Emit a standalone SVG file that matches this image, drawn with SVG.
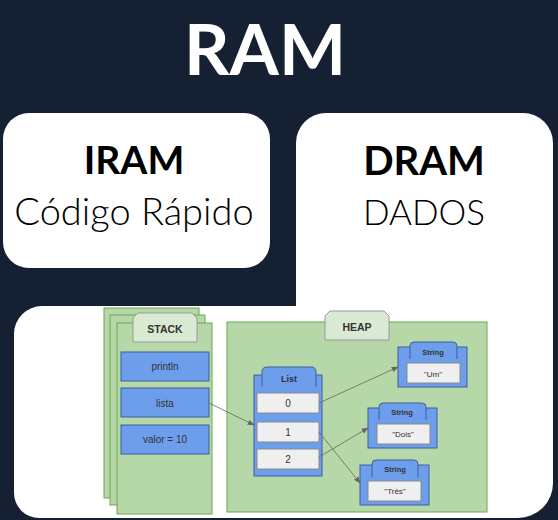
<svg xmlns="http://www.w3.org/2000/svg" width="558" height="520" viewBox="0 0 558 520">
<defs>
<style>
.title{font-family:Lato,"Open Sans","DejaVu Sans",sans-serif;text-anchor:middle}
.b{font-weight:bold}
.lt{font-weight:300}
.d{font-family:"Liberation Sans",Arial,sans-serif;text-anchor:middle;fill:#333}
.grn{fill:#b6d7a8;stroke:#6aa84f;stroke-width:1}
.tabg{fill:#d9ead3;stroke:#9a9a9a;stroke-width:1}
.blue{fill:#6d9eeb;stroke:#3f5f99;stroke-width:1}
.cell{fill:#efefef;stroke:#8a8a8a;stroke-width:1}
.conn{stroke:#666;stroke-width:0.8;fill:none;marker-end:url(#ah)}
</style>
<marker id="ah" viewBox="0 0 10 10" refX="9" refY="5" markerWidth="7" markerHeight="7" orient="auto" markerUnits="userSpaceOnUse">
<path d="M0,1 L10,5 L0,9 Z" fill="#666"/>
</marker>
</defs>
<rect x="0" y="0" width="558" height="520" fill="#152133"/>
<text class="title b" x="265" y="75" font-size="71" fill="#ffffff">RAM</text>

<g id="iram">
<rect x="3" y="113" width="267" height="155" rx="26" fill="#ffffff"/>
<text class="title b" x="134" y="174" font-size="39" fill="#000">IRAM</text>
<text class="title lt" x="134" y="225" font-size="38" fill="#000">Código Rápido</text>
</g>

<g id="dram">
<path d="M296,306 L296,143 A30,30 0 0 1 326,113 L523,113 A30,30 0 0 1 553,143 L553,483 A35,35 0 0 1 518,518 L39,518 A25,25 0 0 1 14,493 L14,334 A28,28 0 0 1 42,306 Z" fill="#ffffff"/>
<text class="title b" x="424" y="175" font-size="40" fill="#000">DRAM</text>
<text class="title lt" x="424" y="225" font-size="35" fill="#000">DADOS</text>
</g>

<g id="stack">
<rect class="grn" x="104" y="308" width="95" height="190"/>
<rect class="grn" x="110" y="315" width="95" height="190"/>
<rect class="grn" x="117" y="323" width="95" height="191"/>
<polygon class="tabg" points="138,313 192,313 197,318 197,342 133,342 133,318"/>
<text class="d b" x="165" y="333" font-size="10.5" fill="#222">STACK</text>
</g>
<g id="println">
<rect class="blue" x="121" y="352" width="88" height="29"/>
<text class="d" x="165" y="370" font-size="10">println</text>
</g>
<g id="lista">
<rect class="blue" x="121" y="388" width="88" height="29"/>
<text class="d" x="165" y="407" font-size="10">lista</text>
</g>
<g id="valor">
<rect class="blue" x="121" y="425" width="88" height="29"/>
<text class="d" x="165" y="443" font-size="10">valor = 10</text>
</g>

<g id="heap">
<rect class="grn" x="227" y="322" width="260" height="190"/>
<polygon class="tabg" points="330,311 384,311 389,316 389,340 325,340 325,316"/>
<text class="d b" x="357" y="331" font-size="10.5" fill="#222">HEAP</text>
</g>

<g id="list">
<rect class="blue" x="254" y="375" width="68" height="101"/>
<path class="blue" d="M262,387 L262,372 Q262,367 267,367 L311,367 Q316,367 316,372 L316,387"/>
<text class="d b" x="289" y="382" font-size="9" fill="#111">List</text>
<rect class="cell" x="257" y="393" width="62" height="20"/>
<text class="d" x="288" y="407" font-size="10">0</text>
<rect class="cell" x="257" y="422" width="62" height="20"/>
<text class="d" x="288" y="436" font-size="10">1</text>
<rect class="cell" x="257" y="449" width="62" height="20"/>
<text class="d" x="288" y="463" font-size="10">2</text>
</g>

<g id="str-um">
<rect class="blue" x="398" y="347" width="69" height="40"/>
<path class="blue" d="M410,359 L410,346 Q410,342 414,342 L453,342 Q457,342 457,346 L457,359"/>
<text class="d b" x="433" y="355" font-size="7.5" fill="#111">String</text>
<rect class="cell" x="407" y="363" width="53" height="20"/>
<text class="d" x="433" y="377" font-size="8">"Um"</text>
</g>
<g id="str-dois">
<rect class="blue" x="368" y="408" width="69" height="40"/>
<path class="blue" d="M379,420 L379,407 Q379,403 383,403 L422,403 Q426,403 426,407 L426,420"/>
<text class="d b" x="402" y="415" font-size="7.5" fill="#111">String</text>
<rect class="cell" x="377" y="424" width="53" height="20"/>
<text class="d" x="403" y="437" font-size="8">"Dois"</text>
</g>
<g id="str-tres">
<rect class="blue" x="360" y="465" width="69" height="40"/>
<path class="blue" d="M372,477 L372,464 Q372,460 376,460 L414,460 Q418,460 418,464 L418,477"/>
<text class="d b" x="395" y="472" font-size="7.5" fill="#111">String</text>
<rect class="cell" x="368" y="481" width="53" height="20"/>
<text class="d" x="395" y="494" font-size="8">"Três"</text>
</g>

<g id="connectors">
<line class="conn" x1="209" y1="403" x2="254" y2="425"/>
<line class="conn" x1="319" y1="403" x2="398" y2="367"/>
<line class="conn" x1="319" y1="457" x2="368" y2="428"/>
<line class="conn" x1="319" y1="432" x2="360" y2="483"/>
</g>
</svg>
